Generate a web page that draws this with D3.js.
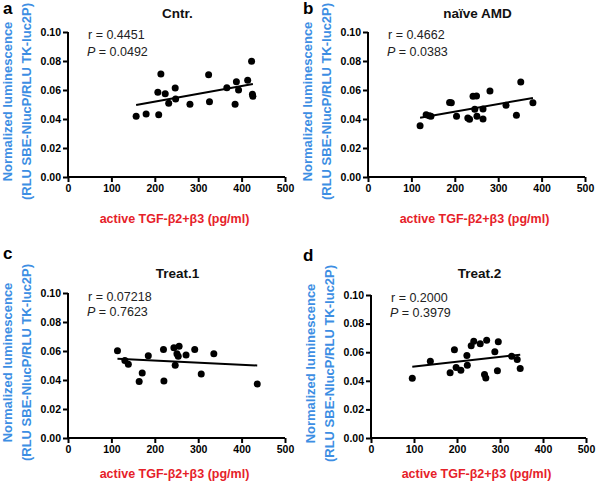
<!DOCTYPE html>
<html><head><meta charset="utf-8">
<script src="https://cdn.jsdelivr.net/npm/d3@7"></script>
<style>body{margin:0;background:#fff}svg{display:block}text{font-family:"Liberation Sans",Arial,Helvetica,sans-serif}</style>
</head><body><svg id="c" width="599" height="484"></svg>
<script>
const panelLetters = ["a","b","c","d"];
const panelTitles = ["Cntr.","naïve AMD","Treat.1","Treat.2"];
const rValues = ["0.4451","0.4662","0.07218","0.2000"];
const pValues = ["0.0492","0.0383","0.7623","0.3979"];
const xTicks = [0,100,200,300,400,500];
const yTicks = [0,0.02,0.04,0.06,0.08,0.10];
const yLabel1 = "Normalized luminescence";
const yLabel2 = "(RLU SBE-NlucP/RLU TK-luc2P)";
const xLabel = "active TGF-β2+β3 (pg/ml)";

const cntrX = [157,180,209,214,207,224,232,247,248,281,324,326,366,388,393,385,414,423,425,426];
const cntrY = [0.0419,0.0434,0.0430,0.0710,0.0584,0.0574,0.0508,0.0614,0.0538,0.0501,0.0706,0.0519,0.0616,0.0657,0.0600,0.0501,0.0667,0.0798,0.0570,0.0557];
const amdX = [120,134,141,145,188,192,204,230,234,242,250,246,251,265,265,281,318,342,352,380];
const amdY = [0.0354,0.0430,0.0423,0.0419,0.0514,0.0512,0.0419,0.0407,0.0398,0.0557,0.0559,0.0467,0.0419,0.0469,0.0400,0.0593,0.0494,0.0426,0.0655,0.0512];
const t1X = [114,131,139,185,171,164,220,221,244,256,251,254,247,272,292,307,336,436];
const t1Y = [0.0602,0.0535,0.0508,0.0568,0.0448,0.0390,0.0611,0.0393,0.0623,0.0632,0.0581,0.0563,0.0501,0.0572,0.0611,0.0441,0.0581,0.0372];
const t2X = [96,138,194,184,198,209,223,224,233,239,254,269,264,267,296,288,294,327,340,347];
const t2Y = [0.0418,0.0537,0.0617,0.0456,0.0493,0.0474,0.0577,0.0509,0.0645,0.0677,0.0659,0.0684,0.0444,0.0420,0.0673,0.0603,0.0470,0.0572,0.0549,0.0486];

const seriesX = [cntrX, amdX, t1X, t2X];
const seriesY = [cntrY, amdY, t1Y, t2Y];

const layout = [
  {l:68,r:285,t:32,b:177, ox:0, oy:0, let:14, tit:18, rY:39, pY:56, xl:46},
  {l:368,r:585,t:32,b:177, ox:300, oy:0, let:14, tit:18, rY:39, pY:56, xl:46},
  {l:68,r:285,t:293,b:438, ox:0, oy:240, let:259, tit:278, rY:301, pY:316, xl:40},
  {l:371,r:586,t:295,b:438, ox:300, oy:240, let:261, tit:278, rY:302, pY:317, xl:40}
];

const svg = d3.select("#c");
const blue = "#3d8ee3", red = "#e62129";

function fit(xs, ys){
  const n = xs.length, mx = d3.mean(xs), my = d3.mean(ys);
  let sxy=0,sxx=0;
  for(let i=0;i<n;i++){sxy+=(xs[i]-mx)*(ys[i]-my);sxx+=(xs[i]-mx)**2;}
  const b = sxy/sxx; return {b, a: my-b*mx};
}

layout.forEach((L,i)=>{
  const g = svg.append("g");
  const x = d3.scaleLinear().domain([0,500]).range([L.l,L.r]);
  const y = d3.scaleLinear().domain([0,0.10]).range([L.b,L.t]);

  const xa = g.append("g").attr("transform",`translate(0,${L.b})`)
    .call(d3.axisBottom(x).tickValues(xTicks).tickSize(5).tickPadding(3).tickFormat(d3.format("d")));
  const ya = g.append("g").attr("transform",`translate(${L.l},0)`)
    .call(d3.axisLeft(y).tickValues(yTicks).tickSize(5).tickPadding(2).tickFormat(d3.format(".2f")));
  [xa,ya].forEach(a=>{
    a.select(".domain").attr("stroke","#000").attr("stroke-width",2);
    a.selectAll(".tick line").attr("stroke","#000").attr("stroke-width",2);
    a.selectAll(".tick text").attr("fill","#000").style("font-size","10.5px").style("font-weight","bold");
  });
  xa.select(".domain").attr("d",`M${L.l-1},0H${L.r}`);
  ya.select(".domain").attr("d",`M0,${L.b+1}V${L.t}`);

  const xs = seriesX[i], ys = seriesY[i];
  const f = fit(xs, ys);
  const x1 = d3.min(xs), x2 = d3.max(xs);
  g.append("line").attr("x1",x(x1)).attr("x2",x(x2))
    .attr("y1",y(f.a+f.b*x1)).attr("y2",y(f.a+f.b*x2))
    .attr("stroke","#000").attr("stroke-width",2);
  g.selectAll("circle.pt").data(xs.map((v,j)=>[v,ys[j]])).enter().append("circle")
    .attr("cx",d=>x(d[0])).attr("cy",d=>y(d[1])).attr("r",3.5).attr("fill","#000");

  g.append("text").attr("x",L.ox+3).attr("y",L.let).text(panelLetters[i])
    .style("font-size","17px").style("font-weight","bold").attr("fill","#000");
  g.append("text").attr("x",(L.l+L.r)/2+1).attr("y",L.tit).attr("text-anchor","middle")
    .text(panelTitles[i]).style("font-size","13.5px").style("font-weight","bold").attr("fill","#111");
  g.append("text").attr("x",L.l+20).attr("y",L.rY).style("font-size","12.5px").attr("fill","#222")
    .text("r = "+rValues[i]);
  const sp = g.append("text").attr("x",L.l+19).attr("y",L.pY).style("font-size","12.5px").attr("fill","#222");
  sp.append("tspan").style("font-style","italic").text("P");
  sp.append("tspan").text(" = "+pValues[i]);
  const cy = (L.t+L.b)/2 - 3;
  const yl = g.append("text").attr("transform",`translate(${L.l-56},${cy}) rotate(-90)`)
    .attr("text-anchor","middle").style("font-size","13px").style("font-weight","bold").attr("fill",blue);
  yl.append("tspan").attr("x",0).attr("dy",0).text(yLabel1);
  yl.append("tspan").attr("x",0).attr("dy","1.45em").text(yLabel2);
  g.append("text").attr("x",(L.l+L.r)/2-2).attr("y",L.b+L.xl).attr("text-anchor","middle")
    .text(xLabel).style("font-size","12.5px").style("font-weight","bold").attr("fill",red);
});
</script></body></html>
